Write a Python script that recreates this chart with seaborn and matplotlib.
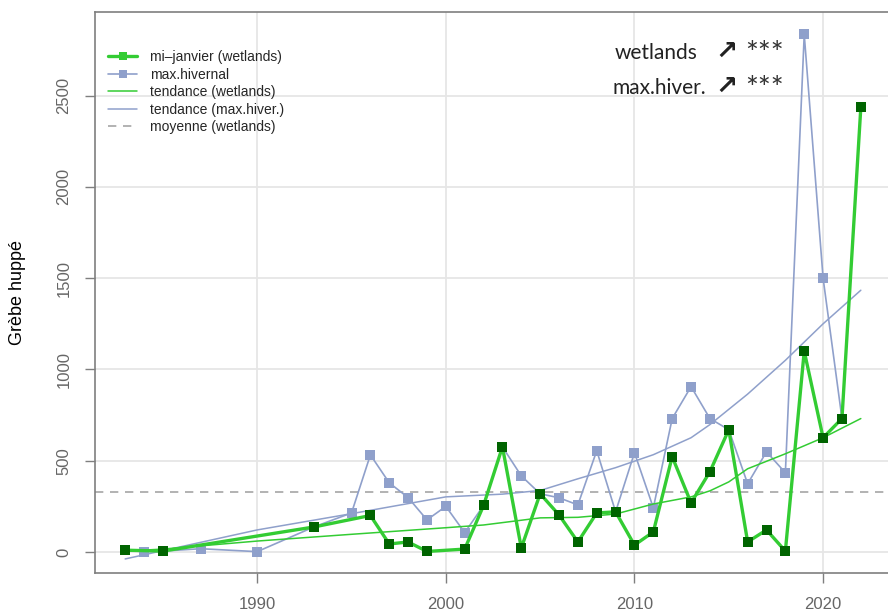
import numpy as np
import matplotlib
matplotlib.use("Agg")
import matplotlib.pyplot as plt
import seaborn as sns

# mi-janvier (wetlands) counts
years_wet = [1983, 1985, 1993, 1996, 1997, 1998, 1999, 2001, 2002, 2003,
             2004, 2005, 2006, 2007, 2008, 2009, 2010, 2011, 2012, 2013,
             2014, 2015, 2016, 2017, 2018, 2019, 2020, 2021, 2022]
wetlands = [10, 5, 137, 200, 44, 55, 3, 16, 255, 576,
            22, 319, 203, 55, 214, 220, 38, 110, 522, 269,
            440, 670, 55, 121, 5, 1100, 626, 731, 2435]

# max.hivernal counts
years_max = [1983, 1984, 1985, 1987, 1990, 1993, 1995, 1996, 1997, 1998,
             1999, 2000, 2001, 2002, 2003, 2004, 2005, 2006, 2007, 2008,
             2009, 2010, 2011, 2012, 2013, 2014, 2015, 2016, 2017, 2018,
             2019, 2020, 2021, 2022]
max_hiv = [10, 2, 5, 18, 2, 137, 214, 532, 379, 298,
           176, 250, 106, 255, 576, 417, 319, 297, 258, 555,
           220, 544, 242, 731, 906, 731, 670, 374, 549, 434,
           2835, 1500, 731, 2435]

# trend curves
years_tw = [1983, 1985, 1990, 1995, 2000, 2002, 2005, 2007, 2009, 2011,
            2013, 2014, 2015, 2016, 2018, 2020, 2022]
trend_wet = [5, 16, 60, 97, 133, 148, 187, 190, 208, 263,
             302, 335, 384, 456, 538, 626, 731]

years_tm = [1983, 1990, 1995, 2000, 2003, 2005, 2007, 2009, 2011, 2013,
            2014, 2016, 2018, 2020, 2022]
trend_max = [-38, 121, 210, 302, 317, 337, 401, 462, 533, 626,
             698, 865, 1050, 1250, 1434]

xticks = [1990, 2000, 2010, 2020]
yticks = [0, 500, 1000, 1500, 2000, 2500]

lime = "#33cc33"
dkgreen = "#006400"
blue = "#8fa0cb"

sns.set_theme(style="white")
plt.rcParams["font.family"] = ["Liberation Sans", "DejaVu Sans"]

fig = plt.figure(figsize=(8.88, 6.12), dpi=100)
ax = fig.add_axes([95 / 888, 1 - 573 / 612, 796 / 888, 561 / 612])

mean_wet = np.mean(wetlands)
ax.axhline(mean_wet, color="#a6a6a6", lw=1.2, ls=(0, (5, 4)), zorder=2,
           label="moyenne (wetlands)")

sns.lineplot(x=years_max, y=max_hiv, ax=ax, color=blue, lw=1.2,
             marker="s", markersize=7, markeredgewidth=0,
             label="max.hivernal", zorder=3)
sns.lineplot(x=years_tm, y=trend_max, ax=ax, color=blue, lw=1.1,
             label="tendance (max.hiver.)", zorder=4)
sns.lineplot(x=years_tw, y=trend_wet, ax=ax, color=lime, lw=1.1,
             label="tendance (wetlands)", zorder=4)
sns.lineplot(x=years_wet, y=wetlands, ax=ax, color=lime, lw=2.4,
             marker="s", markersize=7, markeredgewidth=0,
             label="mi\u2013janvier (wetlands)", zorder=5)
ax.scatter(years_wet, wetlands, marker="s", s=50, color=dkgreen,
           linewidths=0, zorder=6)

ax.set_xlim(1981.4, 2023.6)
ax.set_ylim(-115, 2958)
ax.set_xticks(xticks)
ax.set_yticks(yticks)
ax.grid(True, color="#e6e6e6", lw=1.3)
ax.set_axisbelow(True)

for sp in ax.spines.values():
    sp.set_color("#7f7f7f")
    sp.set_linewidth(1.2)

ax.tick_params(direction="out", length=7, width=1, color="#7f7f7f",
               labelcolor="#666666", labelsize=12, pad=10,
               bottom=True, left=True)
ax.tick_params(axis="y", labelrotation=90)
for lab in ax.get_yticklabels():
    lab.set_va("center")

ax.set_xlabel("")
ax.set_ylabel("Gr\u00e8be hupp\u00e9", fontsize=13, color="black")
ax.yaxis.set_label_coords(-0.087, 0.5)

# legend in the requested order
h, l = ax.get_legend_handles_labels()
order = ["mi\u2013janvier (wetlands)", "max.hivernal", "tendance (wetlands)",
         "tendance (max.hiver.)", "moyenne (wetlands)"]
hd = dict(zip(l, h))
ax.legend([hd[k] for k in order], order, loc="upper left",
          bbox_to_anchor=(0.0164, 0.932), frameon=False, fontsize=10,
          handlelength=2.1, handletextpad=0.9, labelspacing=0.25,
          markerscale=0.75, borderpad=0, borderaxespad=0)

# significance annotations
ann_font = ["Lato", "DejaVu Sans"]
for lbl, x0, yb in [("wetlands", 615, 59), ("max.hiver.", 612, 94)]:
    fig.text(x0 / 888, 1 - yb / 612, lbl, fontsize=15, family=ann_font,
             color="#222222", va="baseline", ha="left")
    fig.text(715 / 888, 1 - yb / 612, "\u2197", fontsize=19,
             family=["DejaVu Sans"], color="#222222", va="baseline",
             ha="left", fontweight="bold")
    fig.text(745 / 888, 1 - (yb + 4) / 612, "***", fontsize=22,
             family=ann_font, color="#333333", va="baseline", ha="left")

fig.savefig("out.png", dpi=100)
